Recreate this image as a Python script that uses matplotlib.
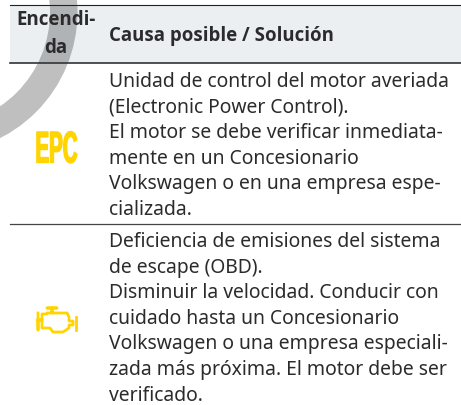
import matplotlib
matplotlib.use('Agg')
import matplotlib.pyplot as plt
from matplotlib.patches import Wedge, Rectangle
from matplotlib.patheffects import AbstractPathEffect
from matplotlib.transforms import Affine2D

# table text
header_left = 'Encendi-\nda'
header_right = 'Causa posible / Solución'
epc_label = 'EPC'
row1_lines = [
    'Unidad de control del motor averiada',
    '(Electronic Power Control).',
    'El motor se debe verificar inmediata-',
    'mente en un Concesionario',
    'Volkswagen o en una empresa espe-',
    'cializada.',
]
row2_lines = [
    'Deficiencia de emisiones del sistema',
    'de escape (OBD).',
    'Disminuir la velocidad. Conducir con',
    'cuidado hasta un Concesionario',
    'Volkswagen o una empresa especiali-',
    'zada más próxima. El motor debe ser',
    'verificado.',
]

TEXT = '#2b2b2d'
YELLOW = '#ffd400'
FONT = 'Noto Sans'
BOLD_FONT = 'Open Sans'


class Squeeze(AbstractPathEffect):
    # narrows the glyphs horizontally, the VW lamp lettering is very condensed
    def __init__(self, sx, stroke):
        super().__init__()
        self.sx = sx
        self.stroke = stroke

    def draw_path(self, renderer, gc, tpath, affine, rgbFace=None):
        m = affine.get_matrix().copy()
        m[0, 0] *= self.sx
        gc.set_foreground(rgbFace)
        gc.set_linewidth(self.stroke)
        renderer.draw_path(gc, tpath, Affine2D(m), rgbFace)


fig = plt.figure(figsize=(4.61, 4.05), dpi=100)
ax = fig.add_axes([0, 0, 1, 1])
ax.set_xlim(0, 461)
ax.set_ylim(405, 0)
ax.axis('off')

# header band and rules
ax.add_patch(Rectangle((10, 5), 451, 58, fc='#ebeff2', ec='none', zorder=1))
ax.plot([10, 461], [5, 5], color='#222222', lw=0.8, zorder=4)
ax.plot([10, 461], [63, 63], color='#333333', lw=1.2, zorder=4)
ax.plot([10, 461], [223.5, 223.5], color='#444444', lw=0.9, zorder=4)

# grey arc behind everything
ax.add_patch(Wedge((-64, 12), 141.5, -90, 90, width=27.5, fc='black', alpha=0.25, ec='none', zorder=2))

# header text
ax.text(56, 34, header_left, ha='center', va='center', fontsize=13.5, fontweight='bold',
        family=BOLD_FONT, color=TEXT, linespacing=1.55, zorder=5)
ax.text(109, 41, header_right, ha='left', va='baseline', fontsize=13.4, fontweight='bold',
        family=BOLD_FONT, color=TEXT, zorder=5)

# body text
for i, line in enumerate(row1_lines):
    ax.text(109, 87 + i * 25.6, line, ha='left', va='baseline', fontsize=13.9, family=FONT, color=TEXT, zorder=5)
for i, line in enumerate(row2_lines):
    ax.text(109, 247 + i * 25.6, line, ha='left', va='baseline', fontsize=13.9, family=FONT, color=TEXT, zorder=5)

# EPC lamp
ax.text(35.5, 162.5, epc_label, ha='left', va='baseline', fontsize=32, fontweight='bold',
        family=['Liberation Sans Narrow', 'Liberation Sans'], color=YELLOW, zorder=5,
        path_effects=[Squeeze(0.46, 1.0)])

# engine lamp outline
engine_x = [38, 38, 38, 42, 42, 47, 47, 52, 52, 47, 57, 52, 52, 60, 67, 69, 69, 73, 73, 69, 69, 63, 59, 53, 50, 42, 42, 38]
engine_y = [313, 330, 320, 320, 314, 314, 313, 313, 308, 308, 308, 308, 313, 313, 313, 317, 321, 321, 325, 325, 328, 332, 332, 332, 328, 328, 320, 320]
ax.plot(engine_x, engine_y, color=YELLOW, lw=2.0, solid_joinstyle='round', zorder=5)
ax.plot([75.5, 75.5], [317, 330], color=YELLOW, lw=2.0, zorder=5)

fig.savefig('out.png', dpi=100)
